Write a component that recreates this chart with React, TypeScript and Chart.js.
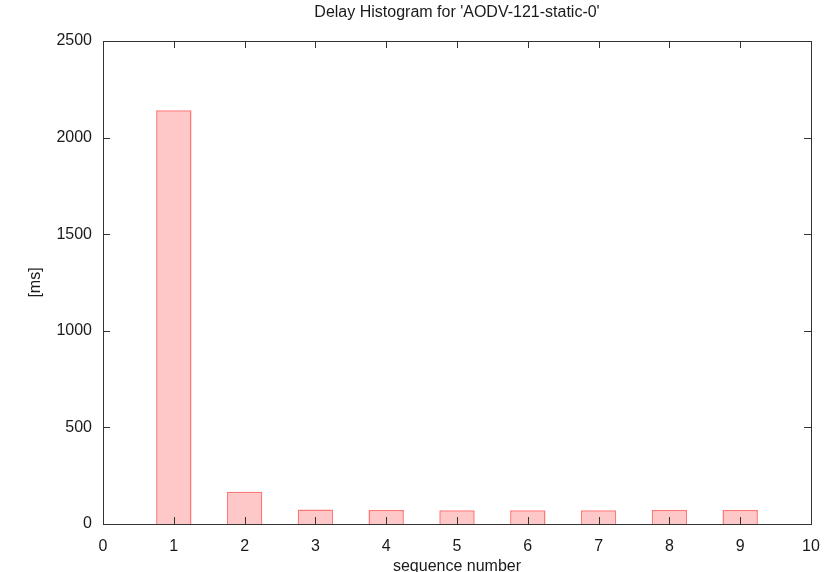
import React, { useEffect, useRef } from "react";
import { Chart, registerables } from "chart.js";

Chart.register(...registerables);

const chartTitle = "Delay Histogram for 'AODV-121-static-0'";
const xAxisTitle = "sequence number";
const yAxisTitle = "[ms]";
const sequenceNumbers = [1, 2, 3, 4, 5, 6, 7, 8, 9];
const delays = [2142, 167, 75, 72, 71, 71, 71, 72, 72];
const xMin = 0;
const xMax = 10;
const yMin = 0;
const yMax = 2500;
const yStep = 500;

const FONT = "'Liberation Sans', Arial, sans-serif";
const TEXT = "#1a1a1a";
const FRAME = "#333333";

const framePlugin = {
  id: "gnuplotFrame",
  afterDatasetsDraw(chart: any) {
    const { ctx, chartArea } = chart;
    const { left, right, top, bottom } = chartArea;
    const tick = 7;
    ctx.save();
    ctx.strokeStyle = FRAME;
    ctx.lineWidth = 1;
    ctx.beginPath();
    const xs = chart.scales.x;
    const ys = chart.scales.y;
    xs.ticks.forEach((t: any) => {
      const px = Math.round(xs.getPixelForValue(t.value)) + 0.5;
      ctx.moveTo(px, bottom);
      ctx.lineTo(px, bottom - tick);
      ctx.moveTo(px, top);
      ctx.lineTo(px, top + tick);
    });
    ys.ticks.forEach((t: any) => {
      const py = Math.round(ys.getPixelForValue(t.value)) + 0.5;
      ctx.moveTo(left, py);
      ctx.lineTo(left + tick, py);
      ctx.moveTo(right, py);
      ctx.lineTo(right - tick, py);
    });
    ctx.stroke();
    ctx.strokeRect(
      Math.round(left) + 0.5,
      Math.round(top) + 0.5,
      Math.round(right - left),
      Math.round(bottom - top)
    );
    ctx.restore();
  },
};

export default function App() {
  const ref = useRef<HTMLCanvasElement | null>(null);

  useEffect(() => {
    document.body.style.margin = "0";
    const canvas = ref.current;
    if (!canvas) return;
    const chart = new Chart(canvas, {
      type: "bar",
      data: {
        datasets: [
          {
            data: sequenceNumbers.map((x, i) => ({ x, y: delays[i] })),
            backgroundColor: "rgb(255,200,200)",
            borderColor: "rgb(255,120,120)",
            borderWidth: 1.5,
            barPercentage: 0.5,
            categoryPercentage: 1,
          },
        ],
      },
      options: {
        responsive: false,
        animation: false,
        devicePixelRatio: 1,
        layout: { padding: { left: 0, right: 14, top: 0, bottom: 0 } },
        plugins: {
          legend: { display: false },
          tooltip: { enabled: false },
          title: {
            display: true,
            fullSize: false,
            text: chartTitle,
            color: TEXT,
            font: { family: FONT, size: 16, weight: "normal" },
            padding: { top: 3, bottom: 18.8 },
          },
        },
        scales: {
          x: {
            type: "linear",
            min: xMin,
            max: xMax,
            offset: false,
            grid: { display: false, drawTicks: false },
            border: { display: false },
            ticks: {
              stepSize: 1,
              color: TEXT,
              padding: 13,
              maxRotation: 0,
              font: { family: FONT, size: 16 },
              callback: (v: any) => String(v),
            },
            title: {
              display: true,
              text: xAxisTitle,
              color: TEXT,
              font: { family: FONT, size: 16 },
              padding: { top: 0, bottom: -4 },
            },
            afterFit(scale: any) {
              scale.height = 48;
              scale.paddingLeft = 0;
              scale.paddingRight = 0;
            },
          },
          y: {
            min: yMin,
            max: yMax,
            grid: { display: false, drawTicks: false },
            border: { display: false },
            ticks: {
              stepSize: yStep,
              color: TEXT,
              padding: 11,
              font: { family: FONT, size: 16 },
              callback: (v: any) => String(v),
            },
            title: {
              display: true,
              text: yAxisTitle,
              color: TEXT,
              font: { family: FONT, size: 16 },
              padding: { top: 26, bottom: 0 },
            },
            afterFit(scale: any) {
              scale.width = 103;
              scale.paddingTop = 0;
              scale.paddingBottom = 0;
            },
          },
        },
      },
      plugins: [framePlugin],
    });
    return () => chart.destroy();
  }, []);

  return (
    <div style={{ width: 825, height: 572, background: "#fff" }}>
      <canvas ref={ref} width={825} height={572} />
    </div>
  );
}
